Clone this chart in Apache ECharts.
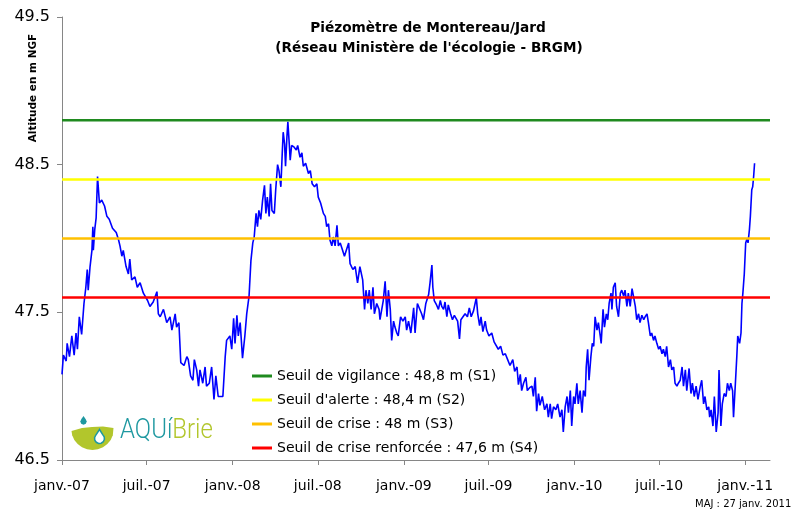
<!DOCTYPE html>
<html>
<head>
<meta charset="utf-8">
<title>Piézomètre de Montereau/Jard</title>
<script src="https://cdn.jsdelivr.net/npm/echarts@6/dist/echarts.min.js"></script>
<style>
  html, body { margin: 0; padding: 0; background: #fff; }
  #chart { width: 791px; height: 511px; }
</style>
</head>
<body>
<div id="chart"></div>
<script>
// x values are days counted from 1 Jan 2007
var tickDays = [0, 181, 365, 547, 731, 912, 1096, 1277, 1461];
var tickLabels = ['janv.-07', 'juil.-07', 'janv.-08', 'juil.-08', 'janv.-09', 'juil.-09', 'janv.-10', 'juil.-10', 'janv.-11'];
var axisEndDay = 1514;

var yTicks = [46.5, 49.5];

var thresholdNames = [
    'Seuil de vigilance : 48,8 m (S1)',
    "Seuil d'alerte : 48,4 m (S2)",
    'Seuil de crise : 48 m (S3)',
    'Seuil de crise renforcée : 47,6 m (S4)'
];
var thresholdValues = [48.8, 48.4, 48.0, 47.6];
var thresholdColors = ['#1f8a1f', '#ffff00', '#ffc000', '#ff0000'];

var measureDays = [
    0, 3, 9, 11, 16, 21, 26, 30, 33, 37, 42, 47, 51, 54, 56, 60, 64, 66, 67, 70,
    73, 76, 80, 85, 91, 96, 101, 108, 116, 121, 124, 128, 131, 137, 142, 145, 149, 156, 161, 167,
    174, 183, 188, 195, 203, 206, 210, 217, 224, 231, 235, 242, 245, 250, 254, 261, 267, 270, 275, 280,
    283, 288, 292, 295, 301, 306, 309, 315, 320, 325, 329, 334, 344, 349,
    352, 359, 363, 367, 370, 374, 377, 381, 386, 391, 395, 400, 404, 408, 411, 415, 418, 421, 425, 429,
    433, 436, 439, 443, 446, 449, 454, 457, 461, 464, 468, 471, 473, 476, 478, 481, 483, 486, 488, 491,
    496, 501, 504, 509, 513, 516, 521, 527, 531, 535, 540, 545, 548, 553, 559, 563, 566, 570, 573, 577,
    580, 584, 588, 591, 595, 600, 604, 609, 613, 616, 622, 627, 632, 637, 643, 647, 650, 654, 657, 661,
    665, 668, 673, 678,
    680, 687, 691, 695, 698, 702, 705, 709, 712, 716, 719, 724, 729, 734, 737, 741, 746, 752, 755, 760,
    764, 769, 773, 778, 784, 787, 791, 793, 796, 801, 805, 809, 812, 816, 819, 823, 826, 831, 835, 839,
    843, 846, 850, 853, 857, 862, 867, 871, 875, 880, 886, 889, 893, 896, 900, 905, 908, 913, 919, 924,
    928, 933, 938, 943, 948, 953, 958, 964, 968, 973, 976, 980, 983, 987, 992, 995, 1000, 1005, 1008, 1012,
    1015, 1019, 1022, 1027, 1032, 1037, 1040, 1044, 1047, 1051, 1056, 1060, 1065, 1069, 1072, 1076, 1080, 1083,
    1087, 1090, 1094, 1097, 1101, 1104, 1108, 1112, 1115, 1119, 1121, 1124, 1127, 1131, 1134, 1137, 1140, 1144,
    1147, 1151, 1153, 1157, 1160, 1164, 1167, 1170, 1174, 1176, 1179, 1183, 1186, 1190, 1194, 1197, 1201, 1204,
    1208, 1211, 1215, 1219, 1222, 1226, 1229, 1233, 1236, 1240, 1244, 1247, 1251, 1254, 1258, 1261, 1265, 1268,
    1272, 1276, 1279, 1283, 1286, 1290, 1293, 1297, 1301, 1304, 1308, 1311, 1315, 1318, 1322, 1326, 1329, 1333,
    1336, 1341, 1345, 1348, 1352, 1356, 1360, 1365, 1368, 1372, 1375, 1379, 1383, 1385, 1388, 1392, 1395, 1399,
    1403, 1405, 1409, 1412, 1416, 1420, 1423, 1427, 1430, 1434, 1436, 1440, 1443, 1445, 1449, 1452, 1454, 1456,
    1459, 1462, 1465, 1467, 1470, 1472, 1475, 1477, 1479, 1481
];

var levels = [
    47.08, 47.21, 47.17, 47.29, 47.20, 47.34, 47.21, 47.36, 47.25, 47.47, 47.35, 47.56, 47.67, 47.79, 47.65, 47.81, 47.92, 48.08, 47.92, 48.06,
    48.14, 48.42, 48.24, 48.26, 48.22, 48.15, 48.13, 48.07, 48.04, 47.99, 47.95, 47.88, 47.92, 47.81, 47.76, 47.86, 47.72, 47.74, 47.67, 47.70,
    47.63, 47.58, 47.54, 47.57, 47.64, 47.49, 47.47, 47.52, 47.43, 47.47, 47.38, 47.49, 47.40, 47.43, 47.16, 47.14, 47.20, 47.18, 47.07, 47.04,
    47.18, 47.11, 47.00, 47.11, 47.02, 47.13, 47.00, 47.02, 47.13, 46.91, 47.07, 46.93, 46.93, 47.20,
    47.31, 47.34, 47.25, 47.46, 47.29, 47.48, 47.34, 47.43, 47.19, 47.34, 47.49, 47.61, 47.85, 47.97, 48.01, 48.17, 48.08, 48.19, 48.13, 48.26,
    48.36, 48.17, 48.28, 48.15, 48.37, 48.19, 48.17, 48.33, 48.50, 48.46, 48.35, 48.58, 48.72, 48.64, 48.49, 48.69, 48.79, 48.64, 48.53, 48.63,
    48.62, 48.60, 48.63, 48.55, 48.58, 48.49, 48.51, 48.44, 48.46, 48.37, 48.35, 48.37, 48.28, 48.24, 48.17, 48.15, 48.08, 48.10, 47.99, 47.95,
    48.01, 47.95, 48.09, 47.95, 47.97, 47.92, 47.88, 47.93, 47.97, 47.83, 47.79, 47.81, 47.70, 47.81, 47.72, 47.52, 47.65, 47.56, 47.65, 47.52,
    47.67, 47.49, 47.56, 47.52,
    47.45, 47.58, 47.71, 47.47, 47.65, 47.52, 47.31, 47.44, 47.40, 47.36, 47.34, 47.47, 47.44, 47.47, 47.38, 47.44, 47.36, 47.53, 47.36, 47.56,
    47.55, 47.49, 47.45, 47.56, 47.62, 47.70, 47.82, 47.67, 47.58, 47.55, 47.52, 47.58, 47.54, 47.52, 47.57, 47.47, 47.55, 47.49, 47.45, 47.48,
    47.47, 47.44, 47.32, 47.45, 47.44, 47.49, 47.47, 47.53, 47.47, 47.51, 47.60, 47.49, 47.41, 47.47, 47.37, 47.44, 47.38, 47.34, 47.36, 47.30,
    47.31, 47.25, 47.27, 47.21, 47.22, 47.18, 47.14, 47.18, 47.10, 47.13, 47.01, 47.08, 46.97, 47.02, 47.06, 46.97, 46.99, 47.00, 46.93, 47.06,
    46.83, 46.95, 46.87, 46.93, 46.84, 46.88, 46.79, 46.88, 46.78, 46.86, 46.84, 46.88, 46.79, 46.84, 46.69, 46.86, 46.93, 46.82,
    46.97, 46.73, 46.93, 46.88, 47.02, 46.88, 46.97, 46.82, 46.97, 46.93, 47.13, 47.25, 47.04, 47.20, 47.29, 47.27, 47.47, 47.38,
    47.43, 47.34, 47.29, 47.52, 47.40, 47.49, 47.45, 47.56, 47.63, 47.52, 47.67, 47.70, 47.54, 47.47, 47.63, 47.65, 47.61, 47.65,
    47.54, 47.63, 47.54, 47.66, 47.61, 47.54, 47.45, 47.49, 47.43, 47.48, 47.45, 47.47, 47.49, 47.43, 47.34, 47.36, 47.31, 47.34,
    47.29, 47.25, 47.27, 47.22, 47.25, 47.20, 47.27, 47.13, 47.18, 47.11, 47.13, 47.02, 47.00, 47.02, 47.04, 47.13, 47.00, 47.11,
    46.97, 47.12, 46.95, 47.02, 46.93, 47.00, 46.91, 47.00, 47.04, 46.88, 46.93, 46.84, 46.86, 46.79, 46.84, 46.73, 46.93, 46.69,
    46.82, 47.11, 46.73, 46.88, 46.95, 46.93, 47.02, 46.97, 47.02, 46.97, 46.79, 47.02, 47.20, 47.34, 47.29, 47.36, 47.56, 47.63,
    47.76, 47.97, 48.00, 47.97, 48.06, 48.15, 48.33, 48.35, 48.42, 48.51
];

var chart = echarts.init(document.getElementById('chart'));

var levelData = measureDays.map(function(d, i) { return [d, levels[i]]; });

var series = [{
    name: 'Niveau',
    type: 'line',
    data: levelData,
    showSymbol: false,
    symbol: 'none',
    lineStyle: { color: '#0000ff', width: 1.6 },
    itemStyle: { color: '#0000ff' },
    silent: true
}];

thresholdNames.forEach(function(name, i) {
    series.push({
        name: name,
        type: 'line',
        data: [[0, thresholdValues[i]], [axisEndDay, thresholdValues[i]]],
        symbol: 'none',
        lineStyle: { color: thresholdColors[i], width: 2.5 },
        itemStyle: { color: thresholdColors[i] },
        silent: true
    });
});

var teal = '#1e98a0';
var lime = '#b2c62c';

var option = {
    animation: false,
    backgroundColor: '#ffffff',
    textStyle: { fontFamily: 'DejaVu Sans' },
    grid: { left: 62, right: 21, top: 17, bottom: 51, outerBoundsMode: 'none' },
    legend: {
        data: thresholdNames,
        orient: 'vertical',
        left: 252,
        top: 368,
        icon: 'rect',
        itemWidth: 20,
        itemHeight: 3,
        itemGap: 8,
        padding: 0,
        selectedMode: false,
        textStyle: { fontSize: 14, color: '#000', lineHeight: 16, fontFamily: 'DejaVu Sans' }
    },
    xAxis: {
        type: 'value',
        min: 0,
        max: axisEndDay,
        axisLine: { show: true, onZero: false, lineStyle: { color: '#868686', width: 1 } },
        axisTick: { show: true, length: 5, customValues: tickDays, lineStyle: { color: '#868686' } },
        axisLabel: {
            customValues: tickDays,
            margin: 19,
            fontSize: 14,
            color: '#000',
            formatter: function(v) {
                var i = tickDays.indexOf(v);
                return i >= 0 ? tickLabels[i] : '';
            }
        },
        splitLine: { show: false }
    },
    yAxis: {
        type: 'value',
        min: yTicks[0],
        max: yTicks[1],
        interval: 1,
        axisLine: { show: true, lineStyle: { color: '#868686', width: 1 } },
        axisTick: { show: true, length: 5, lineStyle: { color: '#868686' } },
        axisLabel: {
            margin: 12,
            fontSize: 16,
            color: '#000',
            formatter: function(v) { return v.toFixed(1); }
        },
        splitLine: { show: false }
    },
    graphic: [
        {
            type: 'text', x: 428, y: 28,
            style: { text: 'Piézomètre de Montereau/Jard', align: 'center', verticalAlign: 'middle',
                     font: 'bold 13.7px "DejaVu Sans"', fill: '#000' }
        },
        {
            type: 'text', x: 429, y: 48,
            style: { text: "(Réseau Ministère de l'écologie - BRGM)", align: 'center', verticalAlign: 'middle',
                     font: 'bold 13.6px "DejaVu Sans"', fill: '#000' }
        },
        {
            type: 'text', x: 33, y: 88, rotation: Math.PI / 2,
            style: { text: 'Altitude en m NGF', align: 'center', verticalAlign: 'middle',
                     font: 'bold 10.5px "DejaVu Sans"', fill: '#000' }
        },
        {
            type: 'text', x: 695, y: 504,
            style: { text: 'MAJ : 27 janv. 2011', align: 'left', verticalAlign: 'middle',
                     font: '10px "DejaVu Sans"', fill: '#000' }
        },
        // AQUiBrie logo
        {
            type: 'polygon',
            shape: { points: [[71.5, 431], [82, 428], [92, 427], [103, 426.5], [113.5, 428],
                [112.8, 435.2], [110.7, 440], [107.3, 444.1], [103, 447.3], [97.9, 449.3], [92.5, 450],
                [87.1, 449.3], [82, 447.3], [77.7, 444.1], [74.3, 440], [72.2, 435.2]] },
            style: { fill: lime }
        },
        {
            type: 'polygon',
            shape: { points: [[99.5, 429.5], [102.7, 434.7], [104.2, 436.8], [104.4, 439.4], [103.3, 441.7],
                [101.2, 443.2], [98.6, 443.4], [96.3, 442.3], [94.8, 440.2], [94.6, 437.6], [95.7, 435.3]] },
            style: { fill: '#ffffff', stroke: teal, lineWidth: 1.5 }
        },
        {
            type: 'polygon',
            shape: { points: [[83.5, 416], [85.6, 419.1], [86.7, 421.5], [85.8, 423.8], [83.5, 424.7],
                [81.2, 423.8], [80.3, 421.5], [81.4, 419.1]] },
            style: { fill: teal }
        },
        {
            type: 'text', x: 120, y: 431, scaleY: 1.15,
            style: {
                text: '{a|AQUí}{b|Brie}',
                verticalAlign: 'middle',
                font: '300 24px Roboto',
                rich: {
                    a: { fill: teal, font: '300 24px Roboto' },
                    b: { fill: lime, font: '300 24px Roboto' }
                }
            }
        }
    ],
    series: series
};

chart.setOption(option);
</script>
</body>
</html>
